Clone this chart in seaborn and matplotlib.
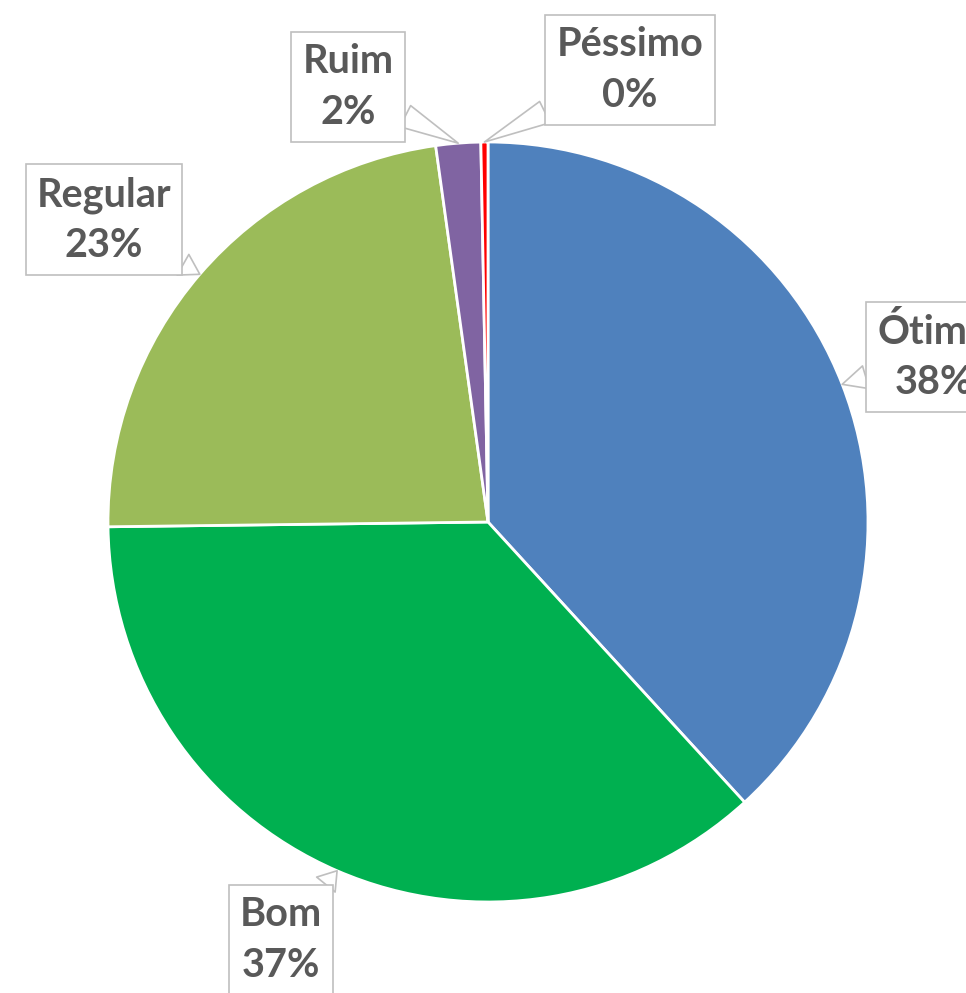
import numpy as np
import matplotlib
matplotlib.use("Agg")
import matplotlib.pyplot as plt
import seaborn as sns

# dados (%)
categorias = ["Ótimo", "Bom", "Regular", "Ruim", "Péssimo"]
valores = [38.2, 36.6, 23.0, 1.9, 0.3]
cores = ["#4F81BD", "#00B050", "#9BBB59", "#8064A2", "#FF0000"]

sns.set_theme(style="white")
plt.rcParams["font.family"] = ["Lato", "DejaVu Sans"]

W, H = 966, 993
fig = plt.figure(figsize=(W / 100, H / 100), dpi=100)
ax = fig.add_axes([0, 0, 1, 1])

centro = (488, H - 522)
raio = 380
paleta = sns.color_palette(cores)

wedges, _ = ax.pie(valores, colors=paleta, startangle=90, counterclock=False,
                   center=centro, radius=raio,
                   wedgeprops=dict(edgecolor="white", linewidth=2))

# posição das caixas de rótulo (pixels, y para baixo)
pos_rotulos = [(934, 357), (281, 940), (104, 220), (348, 87), (630, 70)]

total = sum(valores)
ang = 0.0
for nome, v, (bx, by) in zip(categorias, valores, pos_rotulos):
    meio = np.deg2rad(ang + v / total * 360 / 2)
    ang += v / total * 360
    tip = (centro[0] + raio * np.sin(meio), centro[1] + raio * np.cos(meio))
    ax.annotate(f"{nome}\n{v / total * 100:.0f}%", xy=tip, xytext=(bx, H - by),
                ha="center", va="center", fontsize=28.5, fontweight="bold",
                color="#595959", linespacing=1.45,
                bbox=dict(boxstyle="square,pad=0.28", fc="white", ec="#BFBFBF", lw=1.2),
                arrowprops=dict(arrowstyle="wedge,tail_width=0.6,shrink_factor=0.5",
                                fc="white", ec="#BFBFBF", lw=1.2,
                                shrinkA=0, shrinkB=0),
                annotation_clip=False)

ax.set_xlim(0, W)
ax.set_ylim(0, H)
ax.set_aspect("equal")
ax.axis("off")

fig.savefig("out.png", dpi=100)
